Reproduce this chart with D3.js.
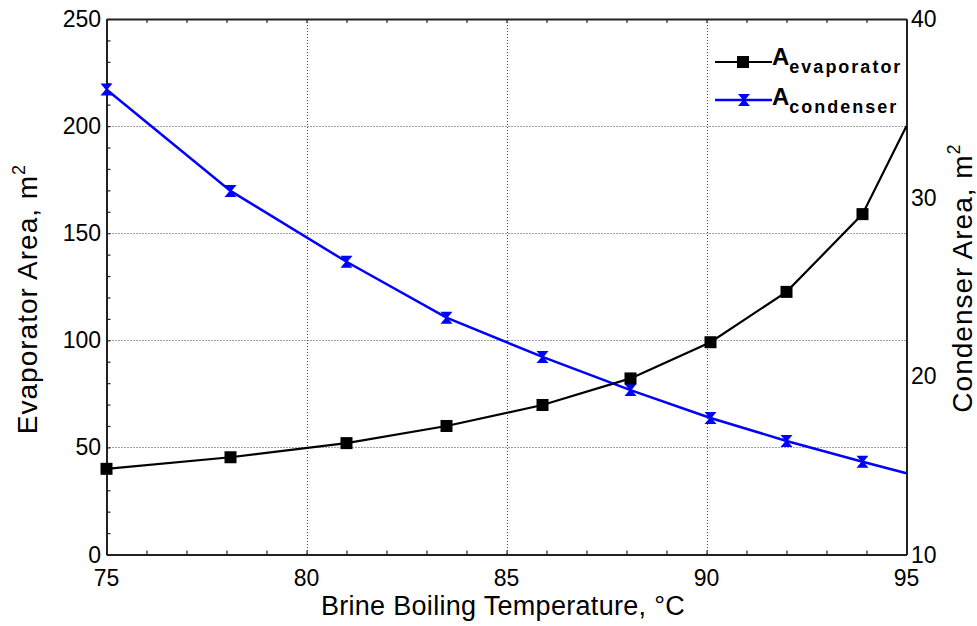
<!DOCTYPE html>
<html>
<head>
<meta charset="utf-8">
<script src="https://cdn.jsdelivr.net/npm/d3@7"></script>
<style>
  body { margin: 0; background: #fff; }
  svg { display: block; font-family: "Liberation Sans", Arial, sans-serif; }
</style>
</head>
<body>
<svg id="chart" width="977" height="626"></svg>
<script>
// brine boiling temperature, degC
var temps = [75, 78.1, 81, 83.5, 85.9, 88.1, 90.1, 92, 93.9, 95];
// evaporator area, m2 (left axis)
var evapArea = [40, 45.4, 52, 60, 69.8, 82.2, 99.1, 122.6, 158.9, 200];
// condenser area, m2 (right axis)
var condArea = [36.05, 30.37, 26.4, 23.27, 21.07, 19.21, 17.65, 16.36, 15.2, 14.55];
var xTicks = [75, 80, 85, 90, 95];
var yLeftTicks = [0, 50, 100, 150, 200, 250];
var yRightTicks = [10, 20, 30, 40];

var svg = d3.select("#chart");
var L = 106.5, R = 906.5, T = 19, B = 554.5;

var x = d3.scaleLinear().domain([75, 95]).range([L, R]);
var yL = d3.scaleLinear().domain([0, 250]).range([B, T]);
var yR = d3.scaleLinear().domain([10, 40]).range([B, T]);

// grid
var grid = svg.append("g").attr("stroke", "#444").attr("stroke-width", 1)
  .attr("stroke-dasharray", "1,2");
grid.selectAll("line.v").data(xTicks.slice(1, -1)).enter().append("line")
  .attr("x1", function (d) { return Math.round(x(d)) + 0.5; })
  .attr("x2", function (d) { return Math.round(x(d)) + 0.5; })
  .attr("y1", T).attr("y2", B);
grid.selectAll("line.h").data(yLeftTicks.slice(1, -1)).enter().append("line")
  .attr("y1", function (d) { return Math.round(yL(d)) + 0.5; })
  .attr("y2", function (d) { return Math.round(yL(d)) + 0.5; })
  .attr("x1", L).attr("x2", R);

// axes
var xMinor = d3.range(75, 95.01, 1);
var axB = d3.axisBottom(x).tickValues(xMinor).tickSizeInner(-4).tickSizeOuter(0).tickFormat("");
var axT = d3.axisTop(x).tickValues(xMinor).tickSizeInner(-4).tickSizeOuter(0).tickFormat("");
var axL = d3.axisLeft(yL).tickValues(d3.range(0, 250.1, 10)).tickSizeInner(-4).tickSizeOuter(0).tickFormat("");
var axR = d3.axisRight(yR).tickValues([]).tickSizeOuter(0);

function styleAxis(g) {
  g.select(".domain").attr("stroke", "#222").attr("stroke-width", 2);
  g.selectAll(".tick line").attr("stroke", "#222").attr("stroke-width", 1.2);
}
svg.append("g").attr("transform", "translate(0," + B + ")").call(axB).call(styleAxis);
svg.append("g").attr("transform", "translate(0," + T + ")").call(axT).call(styleAxis);
svg.append("g").attr("transform", "translate(" + L + ",0)").call(axL).call(styleAxis);
svg.append("g").attr("transform", "translate(" + R + ",0)").call(axR).call(styleAxis);

// tick labels
var lab = svg.append("g").attr("font-size", 23).attr("fill", "#000");
lab.selectAll("text.x").data(xTicks).enter().append("text")
  .attr("x", function (d) { return x(d); }).attr("y", 586)
  .attr("text-anchor", "middle").text(function (d) { return d; });
lab.selectAll("text.yl").data(yLeftTicks).enter().append("text")
  .attr("x", 101).attr("y", function (d) { return yL(d) + 8; })
  .attr("text-anchor", "end").text(function (d) { return d; });
lab.selectAll("text.yr").data(yRightTicks).enter().append("text")
  .attr("x", 911).attr("y", function (d) { return yR(d) + 8; })
  .attr("text-anchor", "start").text(function (d) { return d; });

// axis titles
svg.append("text").attr("x", 503).attr("y", 615).attr("text-anchor", "middle")
  .attr("font-size", 27).attr("letter-spacing", 0.3).text("Brine Boiling Temperature, °C");

var tl = svg.append("text").attr("transform", "translate(37,299) rotate(-90)")
  .attr("text-anchor", "middle").attr("font-size", 28).attr("letter-spacing", 1);
tl.append("tspan").text("Evaporator Area, m");
tl.append("tspan").attr("font-size", 18).attr("dy", -12).text("2");

var tr = svg.append("text").attr("transform", "translate(972,278) rotate(-90)")
  .attr("text-anchor", "middle").attr("font-size", 28).attr("letter-spacing", 1);
tr.append("tspan").text("Condenser Area, m");
tr.append("tspan").attr("font-size", 18).attr("dy", -12).text("2");

// series
var evapPts = temps.map(function (t, i) { return [t, evapArea[i]]; });
var condPts = temps.map(function (t, i) { return [t, condArea[i]]; });

var lineL = d3.line().x(function (d) { return x(d[0]); }).y(function (d) { return yL(d[1]); });
var lineR = d3.line().x(function (d) { return x(d[0]); }).y(function (d) { return yR(d[1]); });

var bowtie = "M-6,-6L6,-6L1,0L6,6L-6,6L-1,0Z";

svg.append("path").datum(condPts).attr("d", lineR)
  .attr("fill", "none").attr("stroke", "#0000ff").attr("stroke-width", 2.5);
svg.selectAll("path.cm").data(condPts.slice(0, -1)).enter().append("path")
  .attr("class", "cm").attr("d", bowtie).attr("fill", "#0000ff")
  .attr("transform", function (d) { return "translate(" + x(d[0]) + "," + yR(d[1]) + ")"; });

svg.append("path").datum(evapPts).attr("d", lineL)
  .attr("fill", "none").attr("stroke", "#000").attr("stroke-width", 2.2);
svg.selectAll("rect.em").data(evapPts.slice(0, -1)).enter().append("rect")
  .attr("class", "em").attr("width", 12).attr("height", 12).attr("fill", "#000")
  .attr("x", function (d) { return x(d[0]) - 6; })
  .attr("y", function (d) { return yL(d[1]) - 6; });

// legend
var leg = svg.append("g");
leg.append("line").attr("x1", 715).attr("x2", 772).attr("y1", 62).attr("y2", 62)
  .attr("stroke", "#000").attr("stroke-width", 2.2);
leg.append("rect").attr("x", 737).attr("y", 56).attr("width", 12).attr("height", 12).attr("fill", "#000");
leg.append("line").attr("x1", 715).attr("x2", 772).attr("y1", 100).attr("y2", 100)
  .attr("stroke", "#0000ff").attr("stroke-width", 2.5);
leg.append("path").attr("d", bowtie).attr("fill", "#0000ff").attr("transform", "translate(744,100)");

var names = [["evaporator", 65], ["condenser", 105]];
names.forEach(function (n) {
  var t = leg.append("text").attr("x", 772).attr("y", n[1]).attr("font-weight", "bold");
  t.append("tspan").attr("font-size", 24).text("A");
  t.append("tspan").attr("font-size", 18).attr("dy", 8).attr("letter-spacing", 2).text(n[0]);
});
</script>
</body>
</html>
